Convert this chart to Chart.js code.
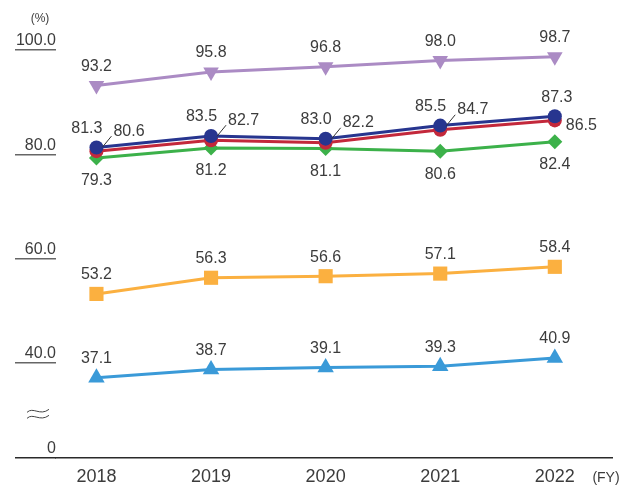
<!DOCTYPE html>
<html>
<head>
<meta charset="utf-8">
<script src="https://cdn.jsdelivr.net/npm/chart.js@4.4.0/dist/chart.umd.min.js"></script>
<style>
    html, body { margin: 0; padding: 0; background: #fff; }
    #wrap { position: relative; width: 622px; height: 485px; }
</style>
</head>
<body>
<div id="wrap"><canvas id="rateChart"></canvas></div>
<script>
"use strict";
const years = [2018, 2019, 2020, 2021, 2022];
const purpleRates = [93.2, 95.8, 96.8, 98.0, 98.7];
const navyRates = [81.3, 83.5, 83.0, 85.5, 87.3];
const redRates = [80.6, 82.7, 82.2, 84.7, 86.5];
const greenRates = [79.3, 81.2, 81.1, 80.6, 82.4];
const orangeRates = [53.2, 56.3, 56.6, 57.1, 58.4];
const blueRates = [37.1, 38.7, 39.1, 39.3, 40.9];
const yTicks = [40, 60, 80, 100];
// axis is broken below 40, this value sits on the baseline and is labelled "0"
const yBreak = 21.71;

const textColor = "#3c3c3c";
const fontFamily = "'Liberation Sans', Arial, sans-serif";

function points(values) {
    return values.map((v, i) => ({ x: years[i], y: v }));
}

function series(values, color, style, radius, labelSpot, extra) {
    return Object.assign({
        data: points(values),
        borderColor: color,
        backgroundColor: color,
        borderWidth: 3,
        pointStyle: style,
        pointRadius: radius,
        pointHoverRadius: radius,
        pointBorderWidth: 0,
        tension: 0,
        labelSpot: labelSpot,
    }, extra || {});
}

const above = () => ({ dx: 0, dy: -19, align: "center" });
const below = () => ({ dx: 0, dy: 23, align: "center" });

const valueLabels = {
    id: "valueLabels",
    afterDatasetsDraw(chart) {
        const ctx = chart.ctx;
        ctx.save();
        ctx.font = "16px " + fontFamily;
        ctx.fillStyle = textColor;
        ctx.strokeStyle = "#333";
        ctx.lineWidth = 1;
        ctx.textBaseline = "middle";
        chart.data.datasets.forEach((ds, di) => {
            const meta = chart.getDatasetMeta(di);
            meta.data.forEach((pt, i) => {
                const spot = ds.labelSpot(i);
                if (spot.leader) {
                    ctx.beginPath();
                    ctx.moveTo(pt.x + 6, pt.y - 4);
                    ctx.lineTo(pt.x + 15, pt.y - 15);
                    ctx.stroke();
                }
                ctx.textAlign = spot.align;
                ctx.fillText(ds.data[i].y.toFixed(1), pt.x + spot.dx, pt.y + spot.dy);
            });
        });

        // unit notes and the axis break mark
        const yScale = chart.scales.y;
        const xScale = chart.scales.x;
        ctx.textAlign = "center";
        ctx.font = "12px " + fontFamily;
        ctx.fillText("(%)", 40, 19);
        ctx.font = "14px " + fontFamily;
        ctx.fillText("(FY)", 606, xScale.bottom - 7);

        const mid = (yScale.getPixelForValue(yBreak) + yScale.getPixelForValue(40)) / 2 + 4;
        ctx.strokeStyle = "#444";
        ctx.lineWidth = 1;
        [-3, 3].forEach((off) => {
            const y0 = mid + off;
            ctx.beginPath();
            ctx.moveTo(27, y0 + 1);
            ctx.bezierCurveTo(33, y0 - 5, 40, y0 + 5, 49, y0 - 2);
            ctx.stroke();
        });
        ctx.restore();
    },
};

new Chart(document.getElementById("rateChart"), {
    type: "line",
    data: {
        datasets: [
            series(navyRates, "#27358f", "circle", 7, (i) =>
                i === 4 ? { dx: 2, dy: -19, align: "center" } : { dx: 6, dy: -19, align: "right" }),
            series(redRates, "#c3283b", "circle", 7, (i) =>
                i === 4 ? { dx: 11, dy: 5, align: "left" } : { dx: 17, dy: -20, align: "left", leader: true }),
            series(greenRates, "#3cb14a", "rectRot", 7.5, below),
            series(purpleRates, "#ab8bc4", "triangle", 9, above, { pointRotation: 180 }),
            series(orangeRates, "#fbb040", "rect", 10, above),
            series(blueRates, "#3a9ad8", "triangle", 9.5, above),
        ],
    },
    options: {
        responsive: true,
        maintainAspectRatio: false,
        animation: false,
        layout: { padding: { top: 24, right: 2, left: 0, bottom: 0 } },
        plugins: {
            legend: { display: false },
            tooltip: { enabled: false },
        },
        scales: {
            x: {
                type: "linear",
                min: 2017.647,
                max: 2022.499,
                afterBuildTicks(scale) {
                    scale.ticks = years.map((v) => ({ value: v }));
                },
                afterFit(scale) {
                    scale.height = 27;
                },
                grid: { display: false },
                border: { display: true, color: "#2a2a2a", width: 1.5 },
                ticks: {
                    padding: 0,
                    color: textColor,
                    autoSkip: false,
                    maxRotation: 0,
                    font: { size: 18, family: fontFamily },
                    callback: (v) => String(v),
                },
            },
            y: {
                min: yBreak,
                max: 105,
                afterBuildTicks(scale) {
                    scale.ticks = [yBreak].concat(yTicks).map((v) => ({ value: v }));
                },
                afterFit(scale) {
                    scale.width = 56;
                },
                border: { display: false },
                grid: {
                    drawOnChartArea: false,
                    drawTicks: true,
                    tickLength: 41,
                    lineWidth: 1.5,
                    color: (c) => (c.tick && c.tick.value === yBreak ? "#2a2a2a" : "#666"),
                },
                ticks: {
                    padding: -41,
                    labelOffset: -9,
                    color: textColor,
                    autoSkip: false,
                    font: { size: 16, family: fontFamily },
                    callback: (v) => (v === yBreak ? "0" : v.toFixed(1)),
                },
            },
        },
    },
    plugins: [valueLabels],
});
</script>
</body>
</html>
